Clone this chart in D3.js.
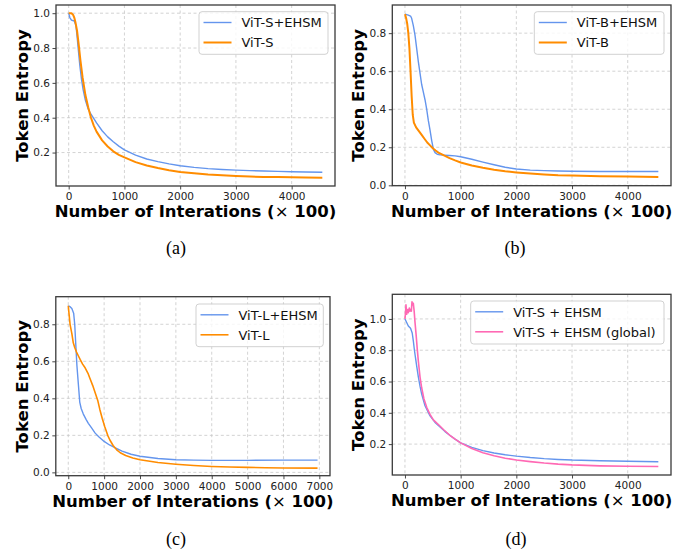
<!DOCTYPE html>
<html>
<head>
<meta charset="utf-8">
<script src="https://cdn.jsdelivr.net/npm/d3@7"></script>
<style>
  html, body { margin: 0; padding: 0; background: #fff; }
  svg { display: block; }
</style>
</head>
<body>
<svg id="chart" width="697" height="555"></svg>
<script>
// ---------------- DATA ----------------
const xTicksShort = [0, 1000, 2000, 3000, 4000];
const xTicksLong = [0, 1000, 2000, 3000, 4000, 5000, 6000, 7000];
const yTicksA = [0.2, 0.4, 0.6, 0.8, 1.0];
const yTicksB = [0.0, 0.2, 0.4, 0.6, 0.8];
const yTicksC = [0.0, 0.2, 0.4, 0.6, 0.8];
const yTicksD = [0.2, 0.4, 0.6, 0.8, 1.0];

const seriesNamesA = ["ViT-S+EHSM", "ViT-S"];
const seriesNamesB = ["ViT-B+EHSM", "ViT-B"];
const seriesNamesC = ["ViT-L+EHSM", "ViT-L"];
const seriesNamesD = ["ViT-S + EHSM", "ViT-S + EHSM (global)"];
const captions = ["(a)", "(b)", "(c)", "(d)"];

const aBlueX = [0,20,50,100,130,150,170,200,230,260,300,350,400,500,600,700,800,900,1000,1200,1400,1600,1800,2000,2250,2500,2750,3000,3250,3500,3750,4000,4250,4550];
const aBlueY = [1.0,0.975,0.96,0.955,0.93,0.87,0.80,0.70,0.62,0.56,0.50,0.45,0.42,0.37,0.325,0.29,0.262,0.237,0.215,0.185,0.163,0.148,0.135,0.124,0.115,0.108,0.103,0.099,0.096,0.094,0.092,0.090,0.088,0.087];
const aOrangeX = [0,50,80,100,120,150,180,210,250,300,350,400,450,500,600,700,800,900,1000,1200,1400,1600,1800,2000,2250,2500,2750,3000,3250,3500,3750,4000,4250,4550];
const aOrangeY = [1.0,1.0,0.99,0.975,0.95,0.90,0.82,0.73,0.63,0.53,0.46,0.40,0.355,0.32,0.27,0.235,0.207,0.187,0.172,0.145,0.126,0.111,0.099,0.089,0.081,0.074,0.069,0.065,0.062,0.060,0.059,0.058,0.057,0.056];

const bBlueX = [0,60,100,120,150,180,210,240,270,300,330,360,390,420,450,480,510,540,580,630,700,800,900,1000,1200,1400,1600,1800,2000,2250,2500,2750,3000,3500,4000,4550];
const bBlueY = [0.90,0.895,0.89,0.878,0.84,0.79,0.72,0.65,0.59,0.53,0.49,0.45,0.40,0.34,0.29,0.235,0.19,0.172,0.163,0.16,0.159,0.157,0.155,0.150,0.137,0.122,0.108,0.095,0.086,0.080,0.077,0.075,0.074,0.073,0.073,0.073];
const bOrangeX = [0,20,40,60,80,100,120,140,160,200,250,300,350,400,450,500,550,600,700,800,900,1000,1200,1400,1600,1800,2000,2250,2500,2750,3000,3500,4000,4550];
const bOrangeY = [0.90,0.88,0.85,0.80,0.72,0.60,0.47,0.37,0.33,0.305,0.285,0.265,0.245,0.225,0.21,0.195,0.183,0.172,0.157,0.143,0.131,0.120,0.104,0.092,0.082,0.074,0.068,0.062,0.057,0.053,0.051,0.048,0.046,0.044];

const cBlueX = [0,50,100,150,180,210,240,280,320,360,420,500,560,650,750,850,1000,1150,1300,1500,1750,2000,2500,3000,3500,4000,5000,6000,6950];
const cBlueY = [0.90,0.895,0.885,0.86,0.80,0.69,0.58,0.48,0.38,0.345,0.315,0.285,0.265,0.24,0.212,0.192,0.167,0.148,0.133,0.115,0.098,0.087,0.075,0.068,0.066,0.065,0.065,0.066,0.066];
const cOrangeX = [0,25,50,100,140,180,230,280,330,400,470,550,600,680,750,820,880,950,1020,1100,1160,1250,1350,1450,1600,1800,2000,2500,3000,3500,4000,4500,5000,5500,6000,6950];
const cOrangeY = [0.90,0.85,0.80,0.75,0.70,0.675,0.65,0.63,0.61,0.585,0.565,0.535,0.51,0.47,0.43,0.39,0.34,0.29,0.245,0.20,0.175,0.145,0.122,0.106,0.091,0.078,0.068,0.053,0.044,0.037,0.032,0.029,0.027,0.025,0.024,0.023];

const dBlueX = [0,20,60,100,130,150,170,190,210,240,270,300,360,450,550,630,720,810,900,1000,1200,1400,1600,1800,2000,2250,2500,2750,3000,3500,4000,4550];
const dBlueY = [1.0,0.985,0.955,0.94,0.91,0.86,0.80,0.75,0.70,0.63,0.57,0.52,0.445,0.38,0.335,0.31,0.28,0.255,0.232,0.208,0.179,0.158,0.143,0.132,0.123,0.114,0.107,0.102,0.098,0.094,0.090,0.087];
const dPinkX = [0,10,18,30,48,60,78,90,102,115,126,138,150,165,180,200,220,240,270,300,340,390,450,510,600,700,800,900,1000,1200,1400,1600,1800,2000,2250,2500,2750,3000,3500,4000,4550];
const dPinkY = [1.0,1.04,1.09,1.03,1.06,1.04,1.07,1.05,1.06,1.05,1.11,1.09,1.10,1.05,0.98,0.90,0.81,0.73,0.63,0.56,0.49,0.435,0.39,0.355,0.325,0.29,0.258,0.232,0.208,0.172,0.145,0.126,0.110,0.098,0.088,0.079,0.072,0.067,0.061,0.058,0.057];

// ---------------- STYLE / LAYOUT ----------------
const BLUE = "#6495ed", ORANGE = "#ff8c00", PINK = "#ff69b4";
const zip = (xs, ys) => xs.map((x, i) => ({x, y: ys[i]}));

const panels = [
  { box: [56, 5, 335, 186], xDomain: [-227.5, 4777.5], yDomain: [0.008, 1.047],
    xTicks: xTicksShort, yTicks: yTicksA,
    series: [
      {name: seriesNamesA[0], data: zip(aBlueX, aBlueY), color: BLUE, w: 1.4},
      {name: seriesNamesA[1], data: zip(aOrangeX, aOrangeY), color: ORANGE, w: 2.0}],
    legend: [199, 11.7, 129, 42.6], caption: captions[0], capX: 176, capY: 254 },
  { box: [392.3, 5, 671, 185.7], xDomain: [-227.5, 4777.5], yDomain: [-0.002, 0.948],
    xTicks: xTicksShort, yTicks: yTicksB,
    series: [
      {name: seriesNamesB[0], data: zip(bBlueX, bBlueY), color: BLUE, w: 1.4},
      {name: seriesNamesB[1], data: zip(bOrangeX, bOrangeY), color: ORANGE, w: 2.0}],
    legend: [534.3, 11.7, 129.7, 42.6], caption: captions[1], capX: 515, capY: 254 },
  { box: [55.8, 296.7, 330, 475.7], xDomain: [-347.5, 7297.5], yDomain: [-0.018, 0.949],
    xTicks: xTicksLong, yTicks: yTicksC,
    series: [
      {name: seriesNamesC[0], data: zip(cBlueX, cBlueY), color: BLUE, w: 1.4},
      {name: seriesNamesC[1], data: zip(cOrangeX, cOrangeY), color: ORANGE, w: 1.6}],
    legend: [196, 304, 127.3, 42.7], caption: captions[2], capX: 176, capY: 545 },
  { box: [392.3, 294.3, 671, 475], xDomain: [-227.5, 4777.5], yDomain: [0.0025, 1.1575],
    xTicks: xTicksShort, yTicks: yTicksD,
    series: [
      {name: seriesNamesD[0], data: zip(dBlueX, dBlueY), color: BLUE, w: 1.4},
      {name: seriesNamesD[1], data: zip(dPinkX, dPinkY), color: PINK, w: 1.6}],
    legend: [470.7, 301, 193.3, 43], caption: captions[3], capX: 516, capY: 545 }
];

const svg = d3.select("#chart");
const FONT = "DejaVu Sans, sans-serif";

panels.forEach(p => {
  const [x0, y0, x1, y1] = p.box;
  const x = d3.scaleLinear().domain(p.xDomain).range([x0, x1]);
  const y = d3.scaleLinear().domain(p.yDomain).range([y1, y0]);
  const g = svg.append("g");

  // grid
  g.append("g").selectAll("line").data(p.xTicks).join("line")
    .attr("x1", d => x(d)).attr("x2", d => x(d)).attr("y1", y0).attr("y2", y1)
    .attr("stroke", "#c8c8c8").attr("stroke-width", 0.8).attr("stroke-dasharray", "3,2.5");
  g.append("g").selectAll("line").data(p.yTicks).join("line")
    .attr("x1", x0).attr("x2", x1).attr("y1", d => y(d)).attr("y2", d => y(d))
    .attr("stroke", "#c8c8c8").attr("stroke-width", 0.8).attr("stroke-dasharray", "3,2.5");

  // lines
  const line = d3.line().x(d => x(d.x)).y(d => y(d.y));
  const clipId = "clip" + captions.indexOf(p.caption);
  g.append("clipPath").attr("id", clipId).append("rect")
    .attr("x", x0).attr("y", y0).attr("width", x1 - x0).attr("height", y1 - y0);
  p.series.forEach(s => {
    g.append("path").datum(s.data).attr("d", line)
      .attr("fill", "none").attr("stroke", s.color).attr("stroke-width", s.w)
      .attr("stroke-linejoin", "round").attr("clip-path", `url(#${clipId})`);
  });

  // axes
  const ax = g.append("g").attr("transform", `translate(0,${y1})`)
    .call(d3.axisBottom(x).tickValues(p.xTicks).tickFormat(d3.format("d")).tickSize(3.5).tickPadding(3));
  const ay = g.append("g").attr("transform", `translate(${x0},0)`)
    .call(d3.axisLeft(y).tickValues(p.yTicks).tickFormat(d3.format(".1f")).tickSize(3.5).tickPadding(2.5));
  [ax, ay].forEach(a => {
    a.select(".domain").remove();
    a.selectAll("text").attr("font-family", FONT).attr("font-size", 10.5).attr("fill", "#222");
    a.selectAll("line").attr("stroke", "#333").attr("stroke-width", 0.9);
  });

  // frame
  g.append("rect").attr("x", x0).attr("y", y0).attr("width", x1 - x0).attr("height", y1 - y0)
    .attr("fill", "none").attr("stroke", "#3a3a3a").attr("stroke-width", 1.3);

  // axis labels
  const xl = g.append("text").attr("x", (x0 + x1) / 2).attr("y", y1 + 31.3)
    .attr("text-anchor", "middle").attr("font-family", FONT).attr("font-size", 16.5)
    .attr("font-weight", "bold").attr("fill", "#000");
  xl.append("tspan").text("Number of Interations (");
  xl.append("tspan").attr("font-weight", "normal").text("\u00d7");
  xl.append("tspan").text(" 100)");

  g.append("text").attr("transform", `translate(${x0 - 28},${(y0 + y1) / 2}) rotate(-90)`)
    .attr("text-anchor", "middle").attr("font-family", FONT).attr("font-size", 16.5)
    .attr("font-weight", "bold").attr("fill", "#000").text("Token Entropy");

  // legend
  const [lx, ly, lw, lh] = p.legend;
  const lg = g.append("g");
  lg.append("rect").attr("x", lx).attr("y", ly).attr("width", lw).attr("height", lh)
    .attr("rx", 3).attr("fill", "#fff").attr("fill-opacity", 0.8)
    .attr("stroke", "#cccccc").attr("stroke-width", 0.9);
  p.series.forEach((s, i) => {
    const cy = ly + 10.8 + i * 20;
    lg.append("line").attr("x1", lx + 4.5).attr("x2", lx + 32.5).attr("y1", cy).attr("y2", cy)
      .attr("stroke", s.color).attr("stroke-width", s.w);
    lg.append("text").attr("x", lx + 42.5).attr("y", cy + 4.7)
      .attr("font-family", FONT).attr("font-size", 13).attr("fill", "#111").text(s.name);
  });

  // caption
  svg.append("text").attr("x", p.capX).attr("y", p.capY).attr("text-anchor", "middle")
    .attr("font-family", "Liberation Serif, Times New Roman, serif").attr("font-size", 18)
    .attr("fill", "#000").text(p.caption);
});
</script>
</body>
</html>
